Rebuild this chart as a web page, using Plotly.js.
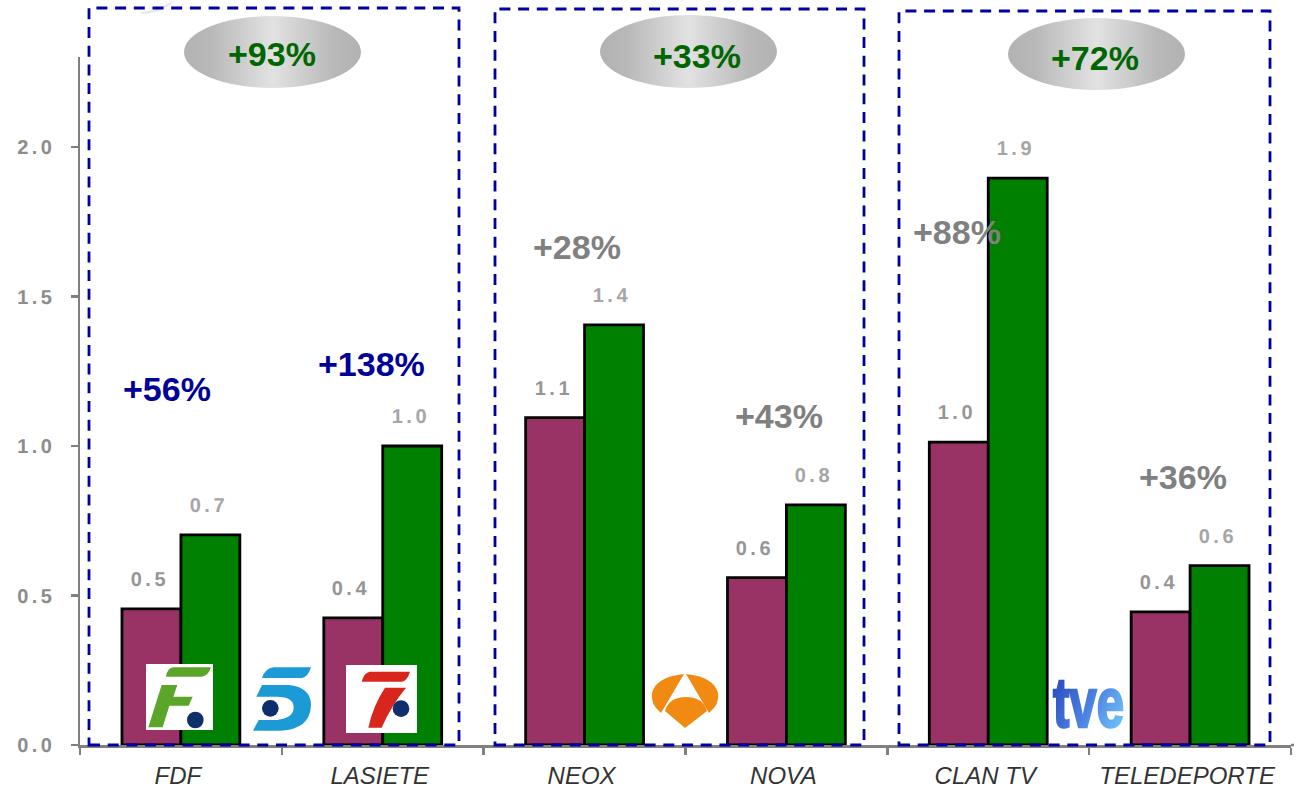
<!DOCTYPE html>
<html>
<head>
<meta charset="utf-8">
<script src="https://cdn.plot.ly/plotly-3.0.1.min.js"></script>
<style>html,body{margin:0;padding:0;background:#fff}</style>
</head>
<body>
<div id="chart" style="width:1298px;height:789px"></div>
<script>
const categories = ['FDF','LASIETE','NEOX','NOVA','CLAN TV','TELEDEPORTE'];
const before = [0.455,0.425,1.095,0.56,1.013,0.445];
const after = [0.703,1.0,1.405,0.803,1.896,0.6];
const beforeLabels = ['0.5','0.4','1.1','0.6','1.0','0.4'];
const afterLabels = ['0.7','1.0','1.4','0.8','1.9','0.6'];
const channelChanges = ['+56%','+138%','+28%','+43%','+88%','+36%'];
const changeColors = ['#000099','#000099','#808080','#808080','#808080','#808080'];
const changeX = [167,371,577,779,957,1183];
const changeY = [389,364,247,416,232,477];
const groupChanges = ['+93%','+33%','+72%'];
const groupTextX = [272,697,1095];
const groupTextY = [54,56,58];
const boxes = [[89,8,459,745],[495,9,864,745],[899,11,1270,745]];
const ellipses = [[184,16,177,72],[600,15,177,73],[1008,18,177,72]];

const W = 1298, H = 789, L = 80, R = 1291, T = 57, B = 745;
const px = x => (x - L) / (R - L);
const py = y => (B - y) / (B - T);

function svgUri(vb, body) {
  return 'data:image/svg+xml,' + encodeURIComponent(
    '<svg xmlns="http://www.w3.org/2000/svg" viewBox="' + vb + '" preserveAspectRatio="none">' + body + '</svg>');
}
const ellipseSvg = svgUri('0 0 177 72',
  '<defs><linearGradient id="g"><stop offset="0" stop-color="#b2b2b2"/><stop offset="0.15" stop-color="#b8b8b8"/><stop offset="0.5" stop-color="#e2e2e2"/><stop offset="0.85" stop-color="#b8b8b8"/><stop offset="1" stop-color="#b2b2b2"/></linearGradient></defs>' +
  '<ellipse cx="88.5" cy="36" rx="88.5" ry="36" fill="url(#g)"/>');
const navy = '#0e2f6b';
const fLogo = svgUri('198 72 201 198',
  '<rect x="198" y="72" width="201" height="198" fill="#fff"/>' +
  '<path d="M280,82 L393,82 Q385,108 365,110 L258,110 Q262,84 280,82 Z" fill="#5aa52a"/>' +
  '<path d="M245,135 L292,135 L280,170 L338,170 L326,197 L268,197 L248,262 L205,262 Z" fill="#5aa52a"/>' +
  '<circle cx="346" cy="240" r="25" fill="' + navy + '"/>');
const fiveLogo = svgUri('500 60 210 225',
  '<path d="M580,82 L692,82 Q684,110 665,114 L545,114 Q555,84 580,82 Z" fill="#1b9ad6"/>' +
  '<path d="M545,135 L625,135 Q692,142 692,195 Q690,268 600,272 L518,272 L535,240 L590,240 Q640,235 640,202 Q640,170 590,170 L528,170 Z" fill="#1b9ad6"/>' +
  '<circle cx="570" cy="205" r="25" fill="' + navy + '"/>');
const sevenLogo = svgUri('798 75 213 203',
  '<rect x="798" y="75" width="213" height="203" fill="#fff"/>' +
  '<path d="M870,95 L990,95 Q982,122 965,125 L845,125 Q852,98 870,95 Z" fill="#d9261c"/>' +
  '<path d="M915,143 L978,143 Q935,195 905,262 L865,262 Q880,195 915,143 Z" fill="#d9261c"/>' +
  '<circle cx="963" cy="205" r="25" fill="' + navy + '"/>');
const antenaLogo = svgUri('645 669 81 76',
  '<rect x="645" y="669" width="81" height="76" fill="#fff"/>' +
  '<path d="M684,674 Q656,677 652,693 Q650,704 661,713 Z" fill="#f08a12"/>' +
  '<path d="M686,674 Q714,677 718,693 Q720,704 709,713 Z" fill="#f08a12"/>' +
  '<path d="M665,711 Q669,697 686,697 Q703,697 707,711 L685,728 Z" fill="#f08a12"/>');
const tveLogo = svgUri('0 0 83 60',
  '<defs><linearGradient id="t" gradientUnits="userSpaceOnUse" x1="4" y1="10" x2="77" y2="50"><stop offset="0" stop-color="#2a4cc0"/><stop offset="0.5" stop-color="#4a80e0"/><stop offset="1" stop-color="#74c4fa"/></linearGradient></defs>' +
  '<text x="5" y="52" font-family="Liberation Sans" font-weight="bold" font-size="70" textLength="71" lengthAdjust="spacingAndGlyphs" fill="url(#t)" stroke="url(#t)" stroke-width="2.5">tve</text>');
const swoosh = svgUri('0 0 40 16',
  '<path d="M2,14 Q20,12 36,0 Q28,14 4,16 Z" fill="#e4e9ee"/>');

function img(source, x, y, w, h) {
  return {source, xref:'paper', yref:'paper', x:px(x), y:py(y), sizex:w/(R-L), sizey:h/(B-T),
          sizing:'stretch', xanchor:'left', yanchor:'top', layer:'above'};
}
const images = [
  ...ellipses.map(e => img(ellipseSvg, e[0], e[1], e[2], e[3])),
  img(swoosh, 138, 0, 40, 14),
  img(fLogo, 146, 664, 67, 66),
  img(fiveLogo, 247, 660, 70, 75),
  img(sevenLogo, 346, 665, 71, 68),
  img(antenaLogo, 645, 669, 81, 76),
  img(tveLogo, 1048, 675, 83, 60)
];

const shapes = boxes.map(b => ({
  type:'rect', xref:'paper', yref:'paper', x0:px(b[0]), x1:px(b[2]), y0:py(b[3]), y1:py(b[1]),
  line:{color:'#0000a0', width:2.8, dash:'11px 7.7px'}, fillcolor:'rgba(0,0,0,0)', layer:'above'
}));
shapes.unshift({type:'line', xref:'paper', yref:'paper', x0:1, x1:px(1294), y0:0, y1:0, line:{color:'#808080', width:2.5}, layer:'below'});

const valueOffset = 0.146;
const ann = [];
categories.forEach((c, i) => {
  ann.push({xref:'x', yref:'y', x:i - valueOffset, y:before[i], text:beforeLabels[i], showarrow:false, yshift:30, xshift:-1.5,
            font:{family:'Liberation Sans', size:20, color:'#969696', weight:'bold'}});
  ann.push({xref:'x', yref:'y', x:i + valueOffset, y:after[i], text:afterLabels[i], showarrow:false, yshift:30, xshift:-1.5,
            font:{family:'Liberation Sans', size:20, color:'#a6a6a6', weight:'bold'}});
  ann.push({xref:'paper', yref:'paper', x:px(changeX[i]), y:py(changeY[i]), xanchor:'center', yanchor:'middle', text:channelChanges[i], showarrow:false,
            font:{family:'Liberation Sans', size:34, color:changeColors[i], weight:'bold'}});
});
groupChanges.forEach((t, i) => ann.push({xref:'paper', yref:'paper', x:px(groupTextX[i]), y:py(groupTextY[i]), xanchor:'center', yanchor:'middle', text:t, showarrow:false,
            font:{family:'Liberation Sans', size:34, color:'#006600', weight:'bold'}}));

const data = [
  {type:'bar', x:categories, y:before, marker:{color:'#993366', line:{color:'#000', width:2.8}}, hoverinfo:'none', showlegend:false},
  {type:'bar', x:categories, y:after, marker:{color:'#008000', line:{color:'#000', width:2.8}}, hoverinfo:'none', showlegend:false}
];
const layout = {
  width:W, height:H, margin:{l:L, r:W-R, t:T, b:H-B, pad:0},
  paper_bgcolor:'#fff', plot_bgcolor:'#fff', showlegend:false,
  barmode:'group', bargap:0.416, bargroupgap:0,
  xaxis:{type:'category', tickson:'boundaries', ticks:'outside', ticklen:7, tickwidth:2.5, tickcolor:'#808080',
         showline:true, linecolor:'#808080', linewidth:2.5, showgrid:false, zeroline:false, ticklabelstandoff:8, ticklabelshift:-3,
         tickfont:{family:'Liberation Sans', size:24, color:'#333', style:'italic'}},
  yaxis:{range:[0,2.301], tickvals:[0,0.5,1,1.5,2], ticktext:['0.0','0.5','1.0','1.5','2.0'], ticks:'outside', ticklen:7, tickwidth:2.5, tickcolor:'#808080',
         showline:true, linecolor:'#808080', linewidth:2.5, showgrid:false, zeroline:false, ticklabelstandoff:11,
         tickfont:{family:'Liberation Sans', size:20, color:'#8c8c8c', weight:'bold'}},
  shapes, images, annotations:ann
};
Plotly.newPlot('chart', data, layout, {displayModeBar:false, staticPlot:true}).then(() => {
  document.querySelectorAll('.ytick text, .annotation-text').forEach(t => {
    if (/^\d\.\d$/.test(t.textContent)) {
      t.style.letterSpacing = '3.5px';
      t.style.textRendering = 'geometricPrecision';
    }
  });
});
</script>
</body>
</html>
